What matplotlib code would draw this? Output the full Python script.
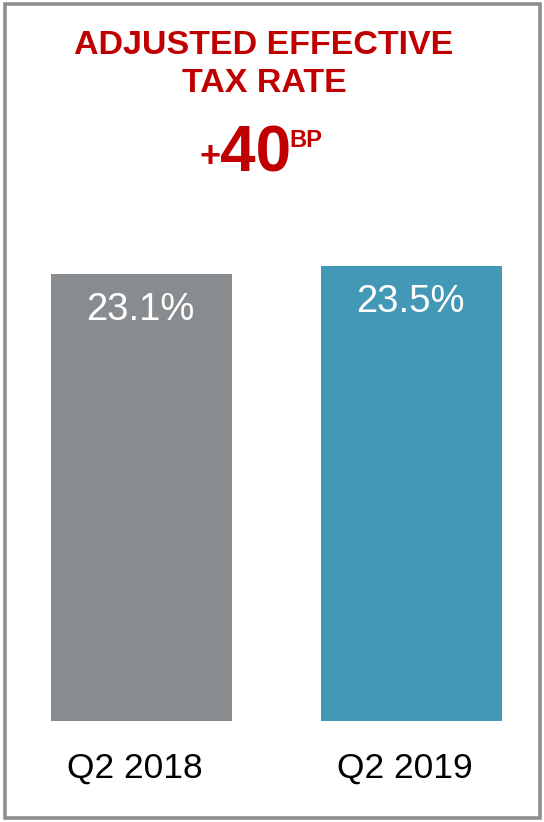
import matplotlib.pyplot as plt
from matplotlib.patches import Rectangle

# Adjusted effective tax rate, Q2 comparison
quarters = ['Q2 2018', 'Q2 2019']
tax_rate = [23.1, 23.5]
bar_colors = ['#898C8E', '#4398B6']
change_bp = 40

plt.rcParams['font.family'] = ['Liberation Sans', 'DejaVu Sans']
RED = '#C00000'

W, H = 544, 822
fig = plt.figure(figsize=(W / 100, H / 100), dpi=100)

# panel frame
fig.patches.append(Rectangle((4.5 / W, 4.5 / H), (W - 9) / W, (H - 9) / H,
                             transform=fig.transFigure, fill=False,
                             edgecolor='#8E8F91', linewidth=2.6))

# axes sized so that one bar slot is 270 px wide and 1 pt of rate is ~19.36 px
px_per_unit = 455 / 23.5
ymax = 25
ax = fig.add_axes([0, 101 / H, 1, ymax * px_per_unit / H])
ax.set_xlim(-141.5 / 270, (W - 141.5) / 270)
ax.set_ylim(0, ymax)
ax.axis('off')

xs = range(len(quarters))
bars = ax.bar(xs, tax_rate, width=181 / 270, color=bar_colors)

for b, v in zip(bars, tax_rate):
    ax.annotate(f'{v:.1f}%', (b.get_x() + b.get_width() / 2, v),
                xytext=(-1, -13), textcoords='offset points',
                ha='center', va='top', color='white', fontsize=27.5)

for x, q in zip(xs, quarters):
    ax.text(x - 0.025, -1.6, q, ha='center', va='top', fontsize=25.5,
            color='black')

# header
fig.text(264 / W, 1 - 54 / H, 'ADJUSTED EFFECTIVE', ha='center',
         va='baseline', color=RED, fontsize=24.5, fontweight='bold')
fig.text(264 / W, 1 - 92 / H, 'TAX RATE', ha='center',
         va='baseline', color=RED, fontsize=24.5, fontweight='bold')
fig.text(221 / W, 1 - 167 / H, '+', ha='right', va='baseline', color=RED,
         fontsize=26, fontweight='bold')
fig.text(220 / W, 1 - 172 / H, str(change_bp), ha='left', va='baseline',
         color=RED, fontsize=46, fontweight='bold')
fig.text(289 / W, 1 - 147 / H, 'BP', ha='left', va='baseline', color=RED,
         fontsize=17, fontweight='bold')

fig.savefig('out.png', dpi=100)
